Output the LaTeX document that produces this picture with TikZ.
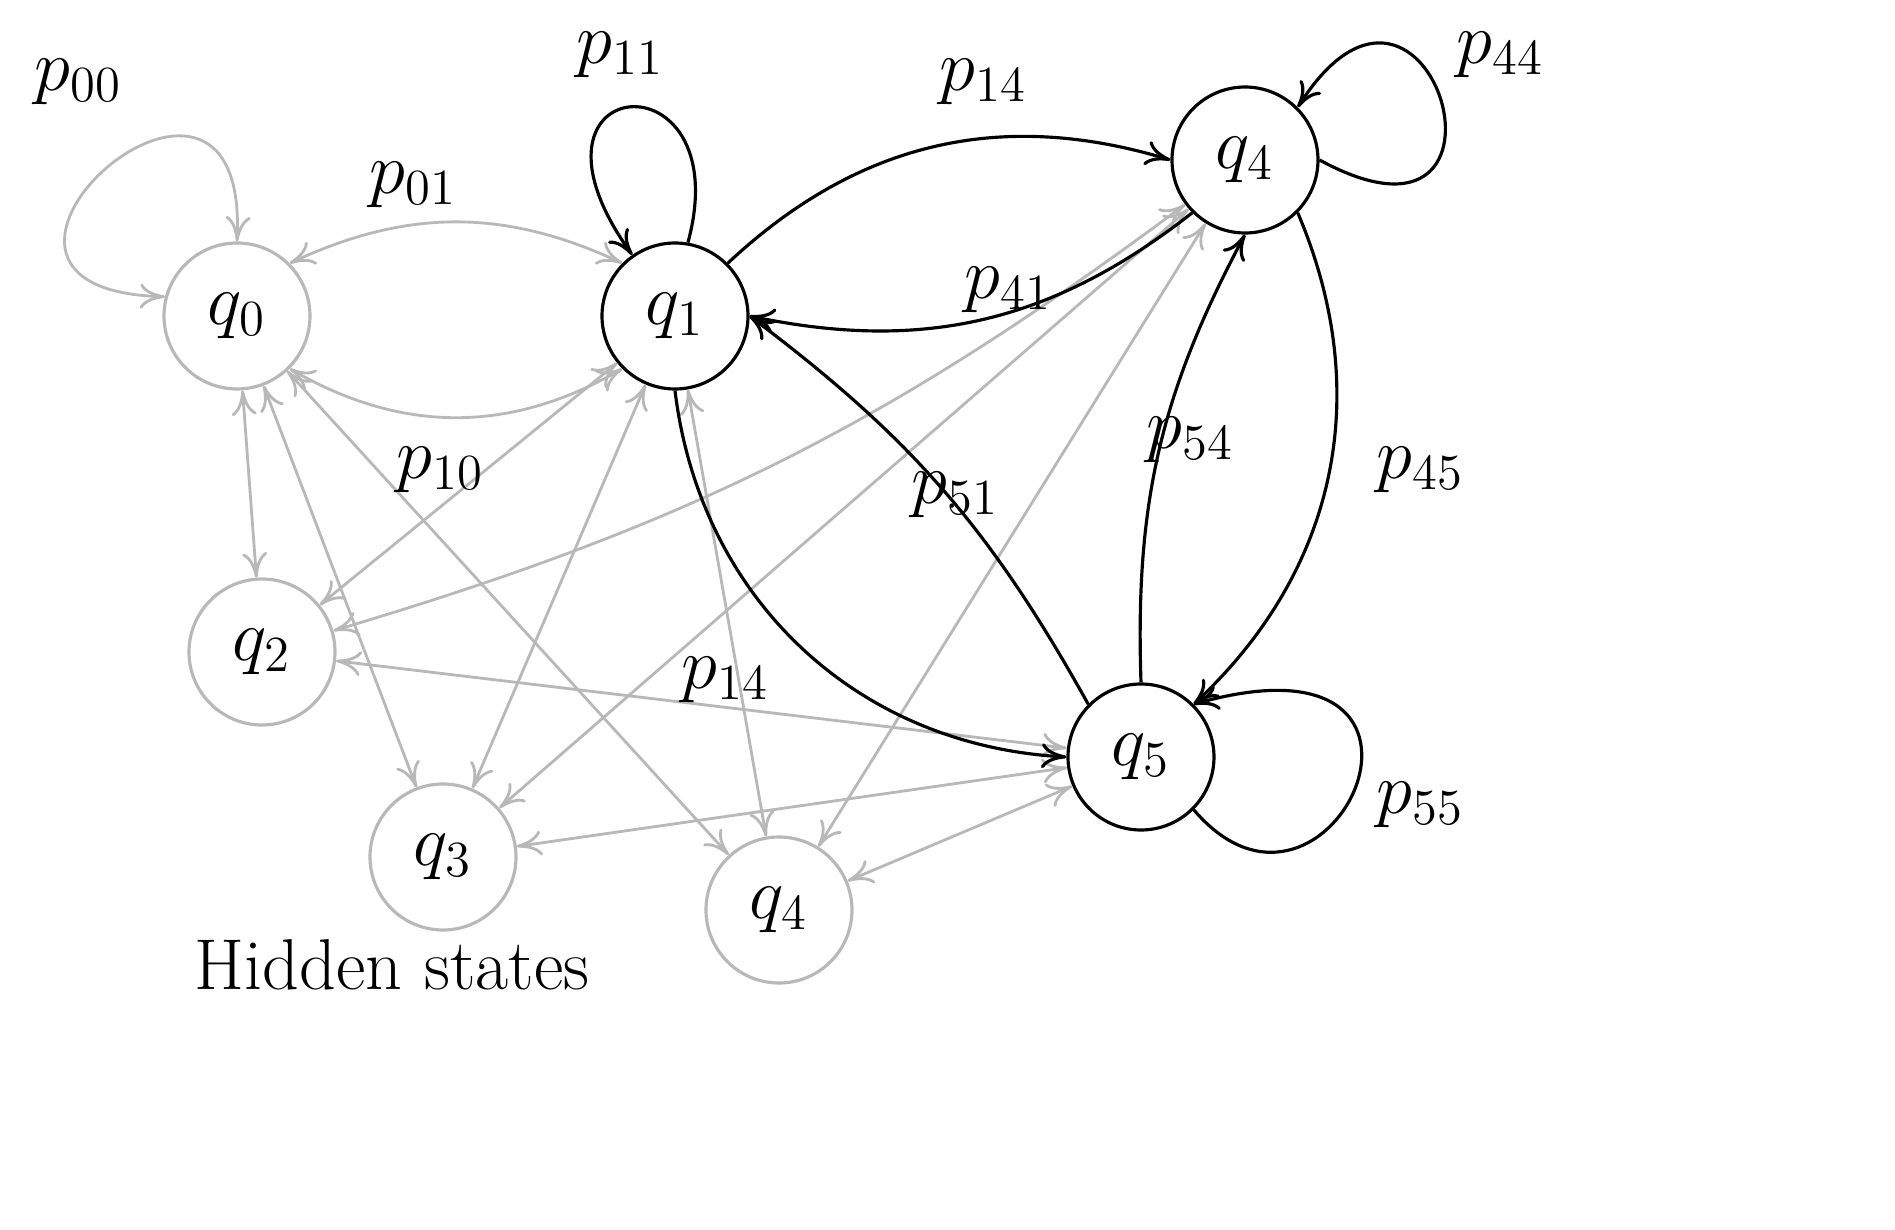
\documentclass[tikz,border=0pt]{standalone}
\usetikzlibrary{arrows.meta}
\begin{document}
\begin{tikzpicture}[x=1cm,y=1cm,font=\fontsize{20.5}{24}\selectfont,
  st/.style={circle,minimum size=1.46cm,inner sep=0pt,line width=0.9pt},
  gs/.style={st,draw=black!28,text=black},
  bs/.style={st,draw=black},
  ge/.style={draw=black!28,line width=0.8pt,{To[length=2.5mm,width=2.5mm]}-{To[length=2.5mm,width=2.5mm]}},
  be/.style={draw=black,line width=0.9pt,-{To[length=2.5mm,width=2.5mm]}},
  lb/.style={inner sep=0pt}]
\useasboundingbox (0,0) rectangle (18.95,-12.3);
\node[gs] (q0) at (2.37,-3.16) {$q_0$};
\node[bs] (q1) at (6.75,-3.16) {$q_1$};
\node[bs] (q4t) at (12.45,-1.60) {$q_4$};
\node[gs] (q2) at (2.62,-6.52) {$q_2$};
\node[gs] (q3) at (4.43,-8.57) {$q_3$};
\node[gs] (q4b) at (7.79,-9.10) {$q_4$};
\node[bs] (q5) at (11.41,-7.57) {$q_5$};
\node[lb] (hs) at (3.92,-9.65) {Hidden states};
% gray edges
\draw[ge] (q0.165) .. controls (-1.0,-2.9) and (2.5,0.2) .. (q0.90);
\draw[ge] (q0.north east) to[bend left=25] (q1.north west);
\draw[ge] (q1.south west) to[bend left=30] (q0.south east);
\draw[ge] (q0) -- (q2);
\draw[ge] (q0) -- (q3);
\draw[ge] (q0) -- (q4b);
\draw[ge] (q1) -- (q2);
\draw[ge] (q1) -- (q3);
\draw[ge] (q1) -- (q4b);
\draw[ge] (q4t) to[bend left=10] (q2);
\draw[ge] (q4t) -- (q3);
\draw[ge] (q4t) -- (q4b);
\draw[ge] (q2) -- (q5);
\draw[ge] (q3) -- (q5);
\draw[ge] (q4b) -- (q5);
% black edges
\draw[be] (q1.80) .. controls (7.4,-0.5) and (5.0,-0.7) .. (q1.125);
\draw[be] (q1.north east) to[bend left=30] (q4t.west);
\draw[be] (q4t.south west) to[bend left=25] (q1.east);
\draw[be] (q1.south) to[bend right=40] (q5.west);
\draw[be] (q5.north west) to[bend right=12] (q1.east);
\draw[be] (q5.north) to[bend left=15] (q4t.south);
\draw[be] (q4t.south east) to[bend left=35] (q5.north east);
\draw[be] (q4t.east) .. controls (15.4,-2.8) and (14.3,1.0) .. (q4t.north east);
\draw[be] (q5.south east) .. controls (13.3,-9.7) and (14.9,-6.2) .. (q5.north east);
% labels
\node[lb] (l00) at (0.78,-0.82) {$p_{00}$};
\node[lb] (l01) at (4.13,-1.85) {$p_{01}$};
\node[lb] (l10) at (4.40,-4.70) {$p_{10}$};
\node[lb] (l11) at (6.20,-0.55) {$p_{11}$};
\node[lb] (l14) at (9.83,-0.82) {$p_{14}$};
\node[lb] (l41) at (10.08,-2.90) {$p_{41}$};
\node[lb] (l51) at (9.55,-4.95) {$p_{51}$};
\node[lb] (l54) at (11.90,-4.40) {$p_{54}$};
\node[lb] (l45) at (14.20,-4.70) {$p_{45}$};
\node[lb] (l44) at (15.00,-0.55) {$p_{44}$};
\node[lb] (l55) at (14.20,-8.05) {$p_{55}$};
\node[lb] (l14b) at (7.25,-6.80) {$p_{14}$};
\end{tikzpicture}
\end{document}
